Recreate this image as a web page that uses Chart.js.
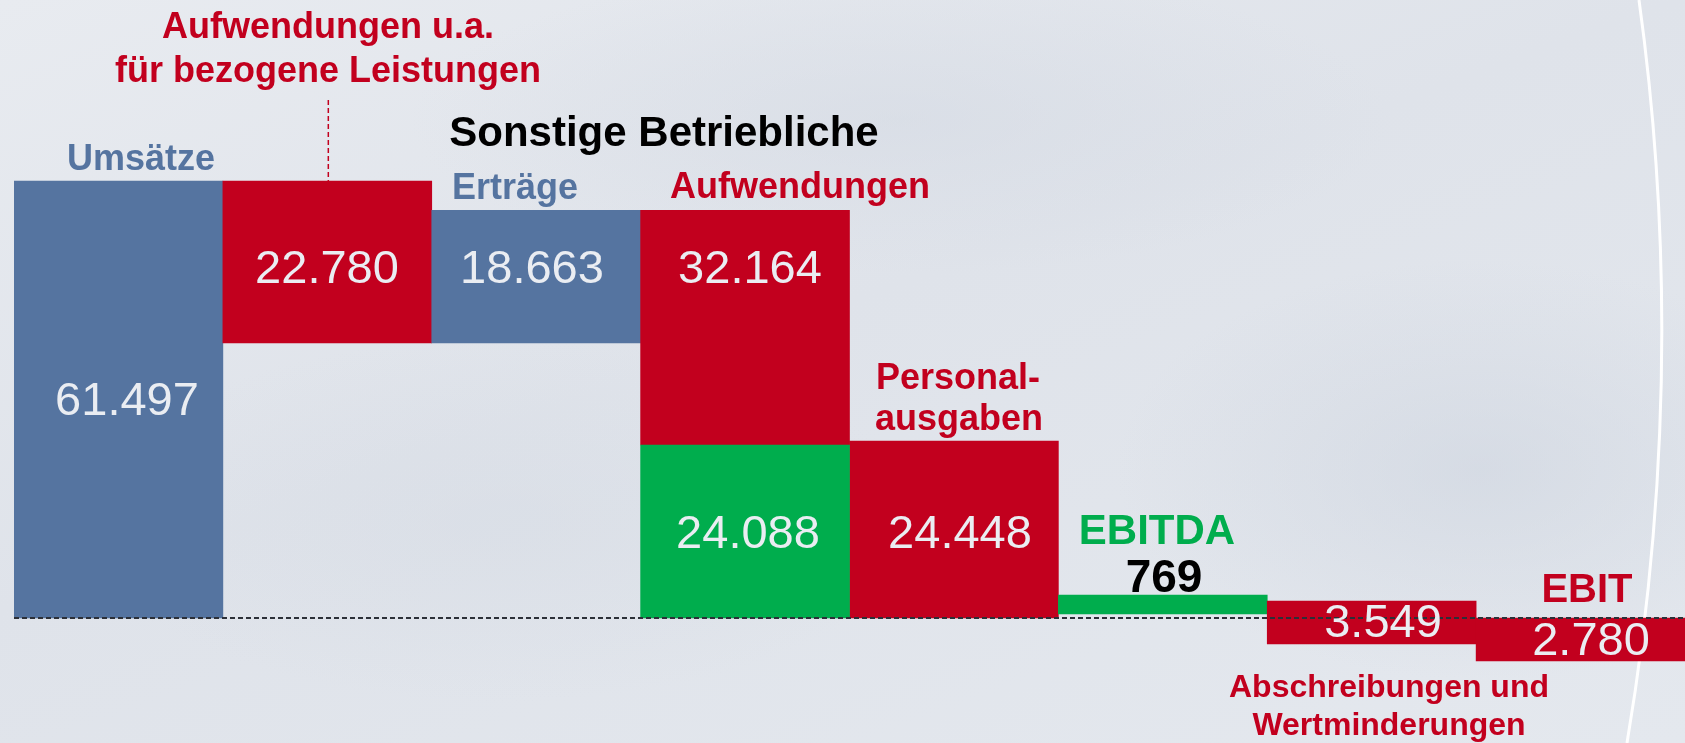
<!DOCTYPE html>
<html lang="de">
<head>
<meta charset="utf-8">
<title>Umsätze bis EBIT</title>
<script src="https://cdn.jsdelivr.net/npm/chart.js@4"></script>
<style>
  html, body {
    margin: 0;
    padding: 0;
  }
  body {
    width: 1685px;
    height: 743px;
    overflow: hidden;
    background:
      radial-gradient(ellipse 520px 300px at 1480px 470px, rgba(204, 211, 222, 0.55), rgba(204, 211, 222, 0) 70%),
      radial-gradient(ellipse 700px 220px at 900px 120px, rgba(210, 216, 226, 0.5), rgba(210, 216, 226, 0) 70%),
      radial-gradient(ellipse 600px 260px at 500px 520px, rgba(212, 218, 227, 0.45), rgba(212, 218, 227, 0) 70%),
      linear-gradient(160deg, #e8ebf0 0%, #dfe3ea 45%, #e4e8ee 100%);
  }
  #wrap {
    position: relative;
    width: 1685px;
    height: 743px;
  }
</style>
</head>
<body>
<div id="wrap"><canvas id="waterfall"></canvas></div>
<script>
// columns of the bridge from Umsätze to EBIT
const categories = ['Umsätze', 'Aufwendungen u.a. für bezogene Leistungen', 'Sonstige Betriebliche Erträge',
    'Sonstige Betriebliche Aufwendungen', 'Personalausgaben', 'EBITDA', 'Abschreibungen und Wertminderungen', 'EBIT'];

// floating bars (in T€)
const barLow = [0, 38717, 38717, 24350, 0, 560, -3660, -6050];
const barHigh = [61497, 61497, 57380, 57380, 24900, 3240, 2390, 0];
const barColors = ['#5574a0', '#c2001e', '#5574a0', '#c2001e', '#c2001e', '#00ad4d', '#c2001e', '#c2001e'];

// green subtotal under the Aufwendungen column
const subLow = [null, null, null, 0, null, null, null, null];
const subHigh = [null, null, null, 24350, null, null, null, null];

// printed values
const valueLabels = ['61.497', '22.780', '18.663', '32.164', '24.448', '769', '3.549', '2.780'];
const subLabel = '24.088';

const RED = '#c2001e';
const BLUE = '#5574a0';
const GREEN = '#00ad4d';
const FONT = '"Liberation Sans", Arial, sans-serif';

const ctx = document.getElementById('waterfall');

const annotations = {
    id: 'annotations',
    beforeDatasetsDraw(chart) {
        const c = chart.ctx;
        // white curved swoosh on the right
        c.save();
        c.strokeStyle = '#ffffff';
        c.lineWidth = 3;
        c.beginPath();
        c.moveTo(1639, 0);
        c.quadraticCurveTo(1690, 368, 1627, 743);
        c.stroke();
        c.restore();
    },
    afterDatasetsDraw(chart) {
        const c = chart.ctx;
        const y = chart.scales.y;
        const x0 = chart.chartArea.left;
        const x1 = chart.chartArea.right;
        const zero = y.getPixelForValue(0);

        c.save();
        // dashed zero line
        c.strokeStyle = '#2c3038';
        c.lineWidth = 2;
        c.setLineDash([5, 3]);
        c.beginPath();
        c.moveTo(x0, zero);
        c.lineTo(x1, zero);
        c.stroke();

        // red leader line to the 2nd column
        const bar2 = chart.getDatasetMeta(0).data[1];
        c.strokeStyle = RED;
        c.lineWidth = 1.5;
        c.setLineDash([5, 3]);
        c.beginPath();
        c.moveTo(bar2.x + 1, 100);
        c.lineTo(bar2.x + 1, y.getPixelForValue(barHigh[1]));
        c.stroke();
        c.restore();

        const text = (s, x, yy, font, color) => {
            c.font = font;
            c.fillStyle = color;
            c.textAlign = 'center';
            c.textBaseline = 'alphabetic';
            c.fillText(s, x, yy);
        };

        // values inside the bars
        const vFont = '47px ' + FONT;
        const vCol = '#eaedf2';
        text(valueLabels[0], 127, 415, vFont, vCol);
        text(valueLabels[1], 327, 283, vFont, vCol);
        text(valueLabels[2], 532, 283, vFont, vCol);
        text(valueLabels[3], 750, 283, vFont, vCol);
        text(subLabel, 748, 548, vFont, vCol);
        text(valueLabels[4], 960, 548, vFont, vCol);
        text(valueLabels[6], 1383, 637, vFont, vCol);
        text(valueLabels[7], 1591, 655, vFont, vCol);
        text(valueLabels[5], 1164, 592, 'bold 46px ' + FONT, '#000000');

        // category captions
        const b36 = 'bold 36px ' + FONT;
        text('Aufwendungen u.a.', 328, 38, b36, RED);
        text('für bezogene Leistungen', 328, 82, b36, RED);
        text('Sonstige Betriebliche', 664, 146, 'bold 42px ' + FONT, '#000000');
        text('Umsätze', 141, 170, b36, BLUE);
        text('Erträge', 515, 199, b36, BLUE);
        text('Aufwendungen', 800, 198, b36, RED);
        text('Personal-', 958, 389, b36, RED);
        text('ausgaben', 959, 430, b36, RED);
        text('EBITDA', 1157, 544, 'bold 42px ' + FONT, GREEN);
        text('EBIT', 1587, 602, 'bold 40px ' + FONT, RED);
        text('Abschreibungen und', 1389, 697, 'bold 32px ' + FONT, RED);
        text('Wertminderungen', 1389, 735, 'bold 32px ' + FONT, RED);
    }
};

const myChart = new Chart(ctx, {
    type: 'bar',
    data: {
        labels: categories,
        datasets: [{
            label: 'Bridge',
            data: barLow.map((v, i) => [v, barHigh[i]]),
            backgroundColor: barColors,
            borderWidth: 0,
            grouped: false,
            categoryPercentage: 1,
            barPercentage: 1,
            order: 1
        }, {
            label: 'Zwischensumme',
            data: subLow.map((v, i) => v === null ? null : [v, subHigh[i]]),
            backgroundColor: GREEN,
            borderWidth: 0,
            grouped: false,
            categoryPercentage: 1,
            barPercentage: 1,
            order: 0
        }]
    },
    options: {
        responsive: true,
        maintainAspectRatio: false,
        animation: false,
        layout: {
            padding: { left: 14, right: 0, top: 0, bottom: 0 }
        },
        plugins: {
            legend: { display: false },
            tooltip: { enabled: false },
            title: { display: false }
        },
        scales: {
            x: { display: false, offset: true },
            y: { display: false, min: -17590, max: 86970 }
        }
    },
    plugins: [annotations]
});
</script>
</body>
</html>
